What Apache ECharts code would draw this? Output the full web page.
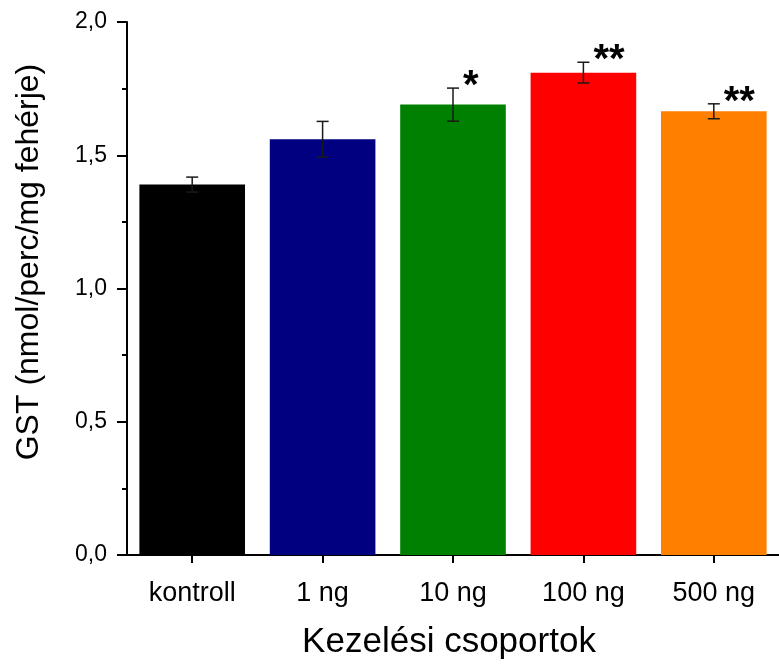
<!DOCTYPE html>
<html>
<head>
<meta charset="utf-8">
<script src="https://cdn.jsdelivr.net/npm/echarts@6/dist/echarts.min.js"></script>
<style>
html,body{margin:0;padding:0;background:#fff;}
#c{width:779px;height:664px;}
</style>
</head>
<body>
<div id="c"></div>
<script>
// ---- data ----
var categories = ['kontroll', '1 ng', '10 ng', '100 ng', '500 ng'];
var means = [1.39, 1.56, 1.69, 1.81, 1.665];
var errors = [0.028, 0.067, 0.062, 0.039, 0.028];
var stars = ['', '', '*', '**', '**'];
var barColors = ['#000000', '#000080', '#008000', '#FF0000', '#FF8000'];
var yTickValues = [0, 0.5, 1.0, 1.5, 2.0];
var yTickLabels = ['0,0', '0,5', '1,0', '1,5', '2,0'];
var xTitle = 'Kezelési csoportok';
var yTitle = 'GST (nmol/perc/mg fehérje)';

var FONT = '"Liberation Sans", Arial, sans-serif';
var chart = echarts.init(document.getElementById('c'), null, {renderer: 'canvas'});

var barData = means.map(function (v, i) {
  return {value: v, itemStyle: {color: barColors[i]}};
});
var errData = means.map(function (v, i) {
  return [i, v - errors[i], v + errors[i], stars[i]];
});

chart.setOption({
  animation: false,
  backgroundColor: '#ffffff',
  grid: {left: 127, right: -8, top: 22, bottom: 109, containLabel: false},
  xAxis: {
    type: 'category',
    data: categories,
    boundaryGap: true,
    axisLine: {show: true, lineStyle: {color: '#000', width: 2}},
    axisTick: {show: true, alignWithLabel: true, length: 8, lineStyle: {color: '#000', width: 2}},
    axisLabel: {color: '#000', fontFamily: FONT, fontSize: 27, margin: 25},
    splitLine: {show: false}
  },
  yAxis: {
    type: 'value',
    min: 0, max: 2, interval: 0.5,
    axisLine: {show: true, lineStyle: {color: '#000', width: 2}},
    axisTick: {show: true, length: 10, lineStyle: {color: '#000', width: 2}},
    minorTick: {show: true, splitNumber: 2, length: 5, lineStyle: {color: '#000', width: 2}},
    axisLabel: {
      color: '#000', fontFamily: FONT, fontSize: 23, margin: 20,
      formatter: function (v) {
        var k = yTickValues.indexOf(Math.round(v * 10) / 10);
        return k >= 0 ? yTickLabels[k] : '';
      }
    },
    splitLine: {show: false}
  },
  series: [
    {
      type: 'bar',
      data: barData,
      barCategoryGap: '19%',
      z: 2
    },
    {
      type: 'custom',
      z: 5,
      data: errData,
      renderItem: function (params, api) {
        var x = api.value(0);
        var lo = api.coord([x, api.value(1)]);
        var hi = api.coord([x, api.value(2)]);
        var s = errData[params.dataIndex][3];
        var half = 6;
        var style = {stroke: '#1a1a1a', lineWidth: 1.5};
        var children = [
          {type: 'line', shape: {x1: hi[0], y1: hi[1], x2: lo[0], y2: lo[1]}, style: style},
          {type: 'line', shape: {x1: hi[0] - half, y1: hi[1], x2: hi[0] + half, y2: hi[1]}, style: style},
          {type: 'line', shape: {x1: lo[0] - half, y1: lo[1], x2: lo[0] + half, y2: lo[1]}, style: style}
        ];
        if (s) {
          children.push({
            type: 'text',
            x: hi[0] + 10, y: hi[1] - 1,
            style: {text: s, fill: '#000', font: 'bold 40px ' + FONT, textAlign: 'left', textVerticalAlign: 'middle'}
          });
        }
        return {type: 'group', children: children};
      }
    }
  ],
  graphic: [
    {
      type: 'text', x: 449, y: 642,
      style: {text: xTitle, fill: '#000', font: '35px ' + FONT, textAlign: 'center', textVerticalAlign: 'middle'}
    },
    {
      type: 'text', x: 29, y: 262, rotation: Math.PI / 2,
      style: {text: yTitle, fill: '#000', font: '32px ' + FONT, textAlign: 'center', textVerticalAlign: 'middle'}
    }
  ]
});
</script>
</body>
</html>
